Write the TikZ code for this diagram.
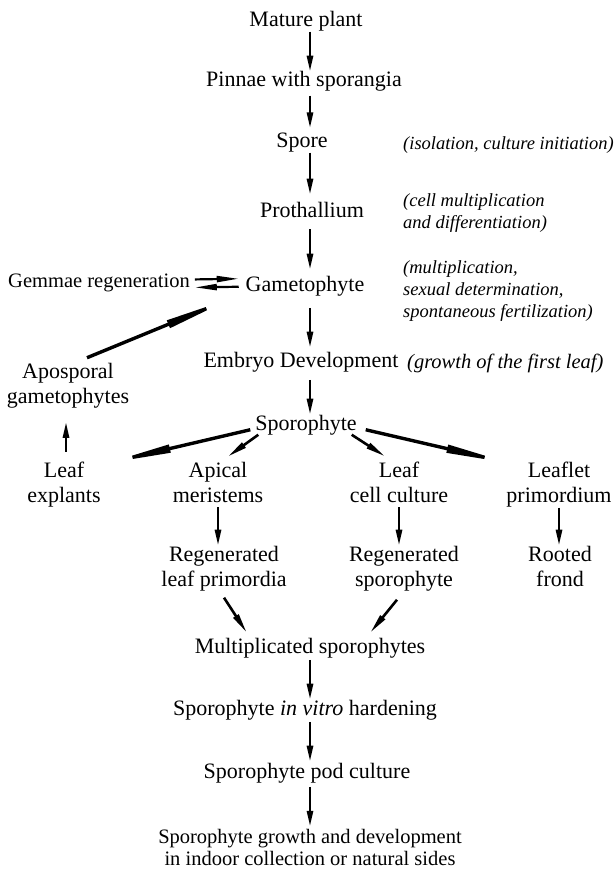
\documentclass[tikz,border=0pt]{standalone}
\usepackage{fontspec}
\setmainfont{Liberation Serif}
\usetikzlibrary{arrows.meta}
\begin{document}
\begin{tikzpicture}[x=1pt,y=-1pt,
  lbl/.style={inner sep=0pt, outer sep=0pt, anchor=base, align=center, font=\fontsize{22}{25}\selectfont},
  sml/.style={lbl, font=\fontsize{20.5}{22}\selectfont},
  note/.style={inner sep=0pt, anchor=west, align=left, font=\fontsize{18.5}{22}\selectfont\itshape},
  arr/.style={line width=2.6pt, -{Triangle[length=#1, width=6pt]}},
  arr/.default=16pt,
  longarr/.style={line width=3.4pt, -{Triangle[length=#1, width=7.5pt]}},
  longarr/.default=70pt,
]
\useasboundingbox (0,0) rectangle (615,872);
\coordinate (spine) at (310,0);

% main column (multi-line nodes are placed at the baseline of their last line)
\node[lbl] (mature) at (306,27) {Mature plant};
\node[lbl] (pinnae) at (304,87) {Pinnae with sporangia};
\node[lbl] (spore) at (302,147) {Spore};
\node[lbl] (proth) at (312,217) {Prothallium};
\node[lbl] (gameto) at (305,291) {Gametophyte};
\node[sml] (gemmae) at (99,287) {Gemmae regeneration};
\node[lbl] (embryo) at (301,367) {Embryo Development};
\node[lbl] (apo) at (68,403) {Aposporal\\gametophytes};
\node[lbl] (sporo) at (306,430) {Sporophyte};
\node[lbl] (leafexp) at (64,502) {Leaf\\explants};
\node[lbl] (apical) at (218,502) {Apical\\meristems};
\node[lbl] (leafcell) at (399,502) {Leaf\\cell culture};
\node[lbl] (leaflet) at (559,502) {Leaflet\\primordium};
\node[lbl] (reglp) at (224,586) {Regenerated\\leaf primordia};
\node[lbl] (regsp) at (404,586) {Regenerated\\sporophyte};
\node[lbl] (rooted) at (560,586) {Rooted\\frond};
\node[lbl] (mult) at (310,653) {Multiplicated sporophytes};
\node[lbl] (hard) at (305,715) {Sporophyte \textit{in vitro} hardening};
\node[lbl] (pod) at (307,778) {Sporophyte pod culture};
\node[sml] (final) at (310,865) {Sporophyte growth and development\\in indoor collection or natural sides};

% notes
\node[note] (n1) at (403,145) {(isolation, culture initiation)};
\node[note] (n2) at (403,213) {(cell multiplication\\and differentiation)};
\node[note] (n3) at (403,291) {(multiplication,\\sexual determination,\\spontaneous fertilization)};
\node[note, font=\fontsize{20.5}{22}\selectfont\itshape] (n4) at (407,363) {(growth of the first leaf)};

% vertical spine arrows
\draw[arr] (mature.south -| spine) -- (pinnae.north -| spine);
\draw[arr] ([yshift=-4pt]pinnae.south -| spine) -- ([yshift=4pt]spore.north -| spine);
\draw[arr] ([yshift=-1pt]spore.south -| spine) -- ([yshift=7pt]proth.north -| spine);
\draw[arr] ([yshift=-12pt]proth.south -| spine) -- ([yshift=6pt]gameto.north -| spine);
\draw[arr] ([yshift=-12pt]gameto.south -| spine) -- ([yshift=4pt]embryo.north -| spine);
\draw[arr] ([yshift=-8pt]embryo.south -| spine) -- ([yshift=0pt]sporo.north -| spine);
\draw[arr] ([yshift=-2pt]mult.south -| spine) -- (hard.north -| spine);
\draw[arr] ([yshift=-2pt]hard.south -| spine) -- ([yshift=1pt]pod.north -| spine);
\draw[arr] ([yshift=-4pt]pod.south -| spine) -- ([yshift=2pt]final.north -| spine);

% gemmae double arrow
\draw[arr=22pt, line width=2.2pt] ([shift={(5,-3)}]gemmae.east) -- ([shift={(-7,-7)}]gameto.west);
\draw[arr=22pt, line width=2.2pt] ([shift={(-7,1)}]gameto.west) -- ([shift={(5,5)}]gemmae.east);

% aposporal
\draw[longarr=75pt] ([shift={(19,-5)}]apo.north) -- ([xshift=-8pt]gameto.south west);
\draw[arr] ([shift={(2,-10)}]leafexp.north) -- ([shift={(-2,14)}]apo.south);

% sporophyte branches
\draw[longarr] ([shift={(-5,5)}]sporo.west) -- ([shift={(1,3)}]leafexp.north east);
\draw[arr=20pt] ([shift={(3,0)}]sporo.south west) -- ([shift={(-2,-5)}]apical.60);
\draw[arr=20pt] ([shift={(-5,0)}]sporo.south east) -- ([shift={(-2,-5)}]leafcell.120);
\draw[longarr] ([shift={(9,5)}]sporo.east) -- ([shift={(9,3)}]leaflet.north west);

\draw[arr] ([yshift=-5pt]apical.south) -- (apical.south |- reglp.north);
\draw[arr] ([yshift=-5pt]leafcell.south) -- (leafcell.south |- regsp.north);
\draw[arr] ([yshift=-1pt]leaflet.south) -- (leaflet.south |- rooted.north);

\draw[arr=20pt] ([shift={(0,7)}]reglp.south) -- ([shift={(52,-5)}]mult.north west);
\draw[arr=20pt] ([shift={(-7,9)}]regsp.south) -- ([shift={(-55,-5)}]mult.north east);
\end{tikzpicture}
\end{document}
